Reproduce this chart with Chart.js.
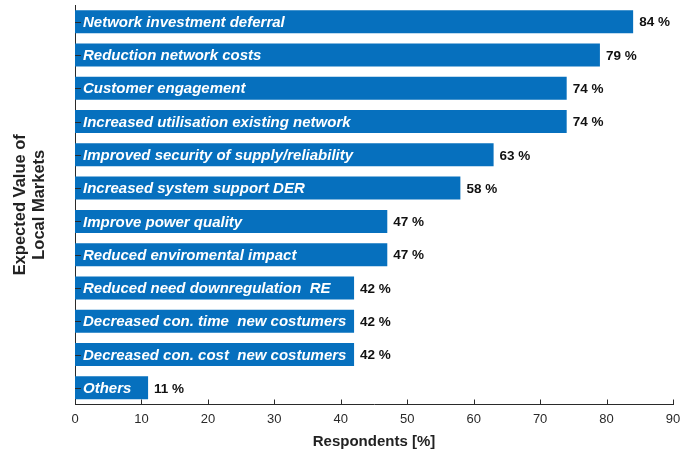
<!DOCTYPE html>
<html>
<head>
<meta charset="utf-8">
<script src="https://cdn.jsdelivr.net/npm/chart.js@4"></script>
<style>
  html, body { margin: 0; padding: 0; background: #fff; }
  #wrap { width: 694px; height: 452px; }
</style>
</head>
<body>
<div id="wrap"><canvas id="market-chart" width="694" height="452"></canvas></div>
<script>
// Survey answers: expected value of local markets
const categories = [
    'Network investment deferral',
    'Reduction network costs',
    'Customer engagement',
    'Increased utilisation existing network',
    'Improved security of supply/reliability',
    'Increased system support DER',
    'Improve power quality',
    'Reduced enviromental impact',
    'Reduced need downregulation  RE',
    'Decreased con. time  new costumers',
    'Decreased con. cost  new costumers',
    'Others',
];
const respondents = [84, 79, 74, 74, 63, 58, 47, 47, 42, 42, 42, 11];
const xTicks = [0, 10, 20, 30, 40, 50, 60, 70, 80, 90];

const fontFamily = '"Liberation Sans", Arial, Helvetica, sans-serif';
const axisColor = '#2a2a2a';

// Category names inside the bars, percentages right of them
const barText = {
    id: 'barText',
    afterDatasetsDraw(chart) {
        const ctx = chart.ctx;
        const meta = chart.getDatasetMeta(0);
        ctx.save();
        ctx.textBaseline = 'middle';
        meta.data.forEach((bar, i) => {
            ctx.fillStyle = '#ffffff';
            ctx.font = 'italic bold 15px ' + fontFamily;
            ctx.textAlign = 'left';
            ctx.fillText(categories[i], bar.base + 8, bar.y + 1);
            ctx.fillStyle = '#111111';
            ctx.font = 'bold 13.5px ' + fontFamily;
            ctx.fillText(respondents[i] + ' %', bar.x + 6, bar.y + 1);
        });
        ctx.restore();
    }
};

// Tick marks pointing into the plot area
const innerTicks = {
    id: 'innerTicks',
    afterDraw(chart) {
        const ctx = chart.ctx;
        const x = chart.scales.x;
        const y = chart.scales.y;
        ctx.save();
        ctx.strokeStyle = axisColor;
        ctx.lineWidth = 1;
        ctx.beginPath();
        xTicks.forEach(v => {
            const px = Math.round(x.getPixelForValue(v)) + 0.5;
            ctx.moveTo(px, y.bottom);
            ctx.lineTo(px, y.bottom - 5);
        });
        categories.forEach((c, i) => {
            const py = Math.round(y.getPixelForValue(i)) + 0.5;
            ctx.moveTo(x.left, py);
            ctx.lineTo(x.left + 6, py);
        });
        ctx.stroke();
        ctx.restore();
    }
};

const marketChart = new Chart(document.getElementById('market-chart'), {
    type: 'bar',
    data: {
        labels: categories,
        datasets: [{
            data: respondents,
            backgroundColor: '#0670BE',
            borderWidth: 0,
            barPercentage: 0.69,
            categoryPercentage: 1.0,
        }]
    },
    options: {
        indexAxis: 'y',
        responsive: false,
        animation: false,
        layout: { padding: { top: 5, right: 21, left: 0, bottom: 0 } },
        plugins: {
            legend: { display: false },
            tooltip: { enabled: false },
        },
        scales: {
            x: {
                min: 0,
                max: 90,
                afterBuildTicks: scale => { scale.ticks = xTicks.map(v => ({ value: v })); },
                afterFit: scale => { scale.height = 47.5; },
                grid: { display: false, drawTicks: false },
                border: { display: true, color: axisColor, width: 1 },
                ticks: {
                    padding: 7,
                    color: '#2a2a2a',
                    font: { family: fontFamily, size: 13 },
                },
                title: {
                    display: true,
                    text: 'Respondents [%]',
                    color: '#222222',
                    font: { family: fontFamily, size: 15, weight: 'bold', lineHeight: 1.2 },
                    padding: { top: 0, bottom: 1 },
                },
            },
            y: {
                afterFit: scale => { scale.width = 75; },
                grid: { display: false, drawTicks: false },
                border: { display: true, color: axisColor, width: 1 },
                ticks: { display: false },
                title: {
                    display: true,
                    text: ['Expected Value of', 'Local Markets'],
                    color: '#222222',
                    font: { family: fontFamily, size: 16.5, weight: 'bold', lineHeight: 1.21 },
                    padding: { top: 10, bottom: 0 },
                },
            },
        },
    },
    plugins: [barText, innerTicks],
});
</script>
</body>
</html>
